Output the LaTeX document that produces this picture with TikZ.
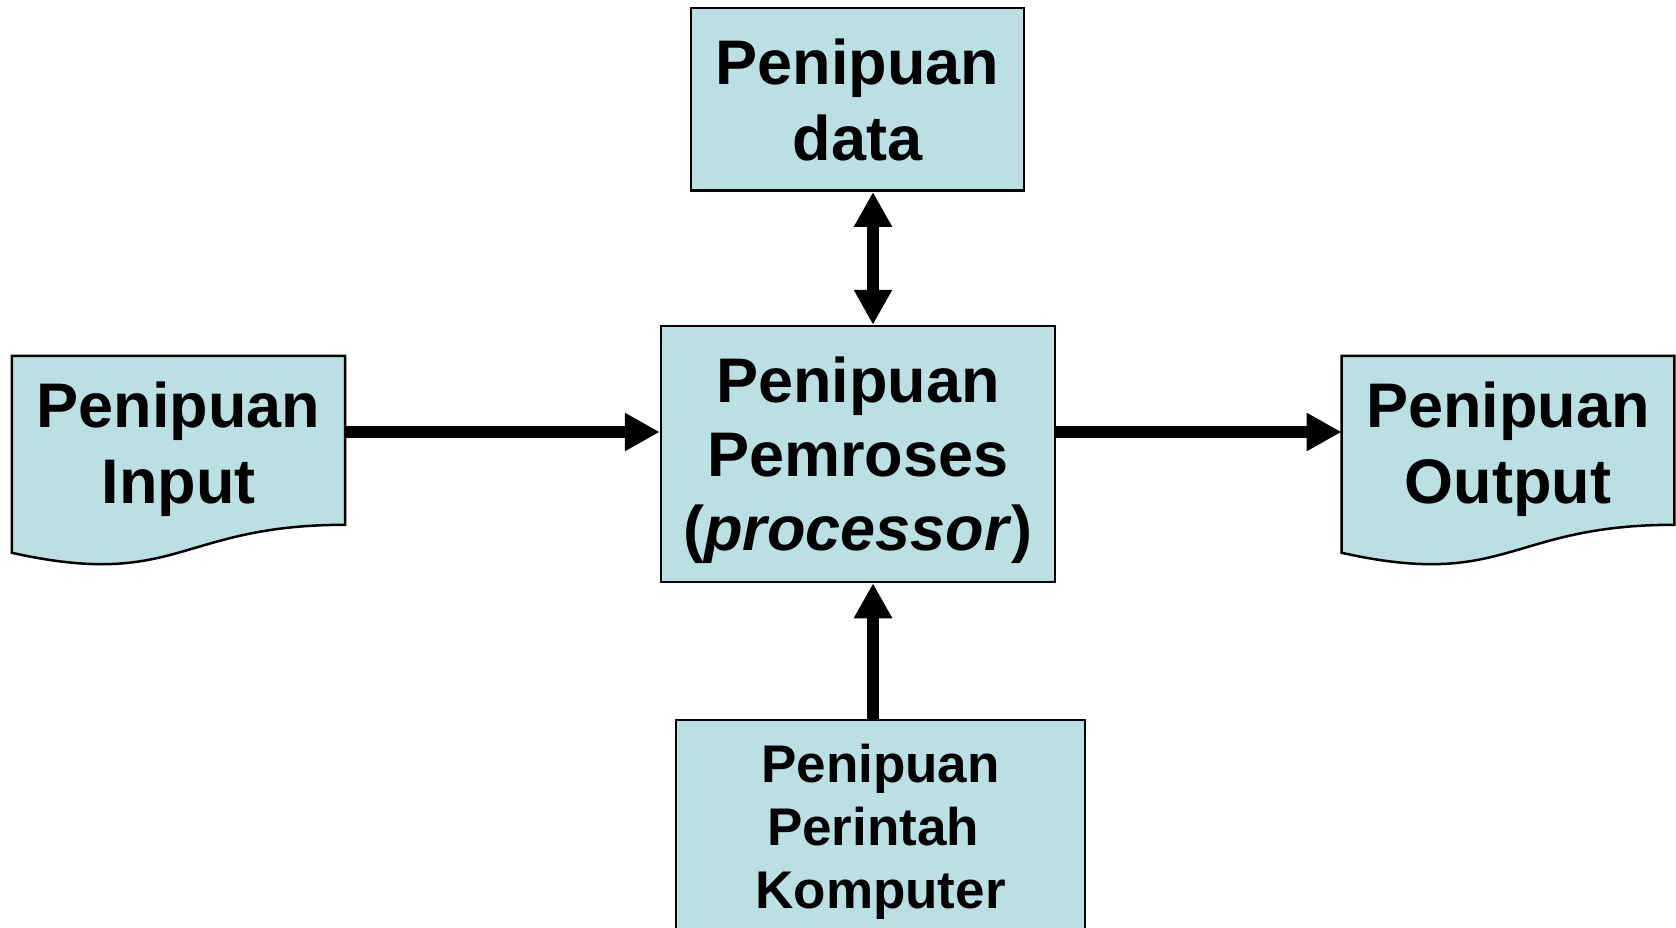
\documentclass[tikz,border=0pt]{standalone}
\usepackage{fontspec}
\setmainfont{Liberation Sans}
\usetikzlibrary{arrows.meta,calc,backgrounds}
\definecolor{boxfill}{RGB}{187,224,227}
\begin{document}
\begin{tikzpicture}[x=1pt,y=-1pt,
  box/.style={draw=black,line width=2.5pt,fill=boxfill,align=center,inner sep=0pt,text depth=0pt,font=\fontsize{63}{76}\selectfont\bfseries},
  doc/.style={align=center,inner sep=0pt,text depth=0pt,font=\fontsize{63}{76}\selectfont\bfseries},
  docshape/.style={draw=black,line width=2.5pt,fill=boxfill},
  arr/.style={line width=12pt,-{Triangle[length=35pt,width=36pt]}},
  biarr/.style={line width=12pt,{Triangle[length=35pt,width=36pt]}-{Triangle[length=35pt,width=36pt]}}]
\useasboundingbox (0,0) rectangle (1676,928);
\clip (0,0) rectangle (1676,928);

\node[box,minimum width=333pt,minimum height=182.5pt] (data) at (857.5,99.5) {Penipuan\\data};
\node[box,minimum width=394pt,minimum height=256pt,font=\fontsize{63}{74}\selectfont\bfseries] (proc) at (858,454) {Penipuan\\Pemroses\\(\textit{processor})};
\node[box,minimum width=409pt,minimum height=212pt,font=\fontsize{53}{63}\selectfont\bfseries] (cmd) at (880.5,826) {Penipuan\\Perintah\rule{0.28em}{0pt}\\Komputer};
\node[doc,minimum width=333pt,minimum height=174pt] (in) at (178.5,443) {Penipuan\\Input};
\node[doc,minimum width=332.3pt,minimum height=174pt] (out) at (1507.9,443) {Penipuan\\Output};

\begin{scope}[on background layer]
  \foreach \n in {in,out}{
    \draw[docshape] (\n.north west) -- (\n.north east) -- ($(\n.north east)+(0,169)$)
      .. controls ($(\n.north)+(0,169)$) and ($(\n.north)+(0,234)$) .. ($(\n.north west)+(0,197)$) -- cycle;
  }
\end{scope}

\coordinate (ax) at (873,0);
\coordinate (ay) at (0,432);
\draw[biarr] (data.south -| ax) -- (proc.north -| ax);
\draw[arr] (cmd.north -| ax) -- (proc.south -| ax);
\draw[arr] (in.east |- ay) -- (proc.west |- ay);
\draw[arr] (proc.east |- ay) -- (out.west |- ay);
\end{tikzpicture}
\end{document}
